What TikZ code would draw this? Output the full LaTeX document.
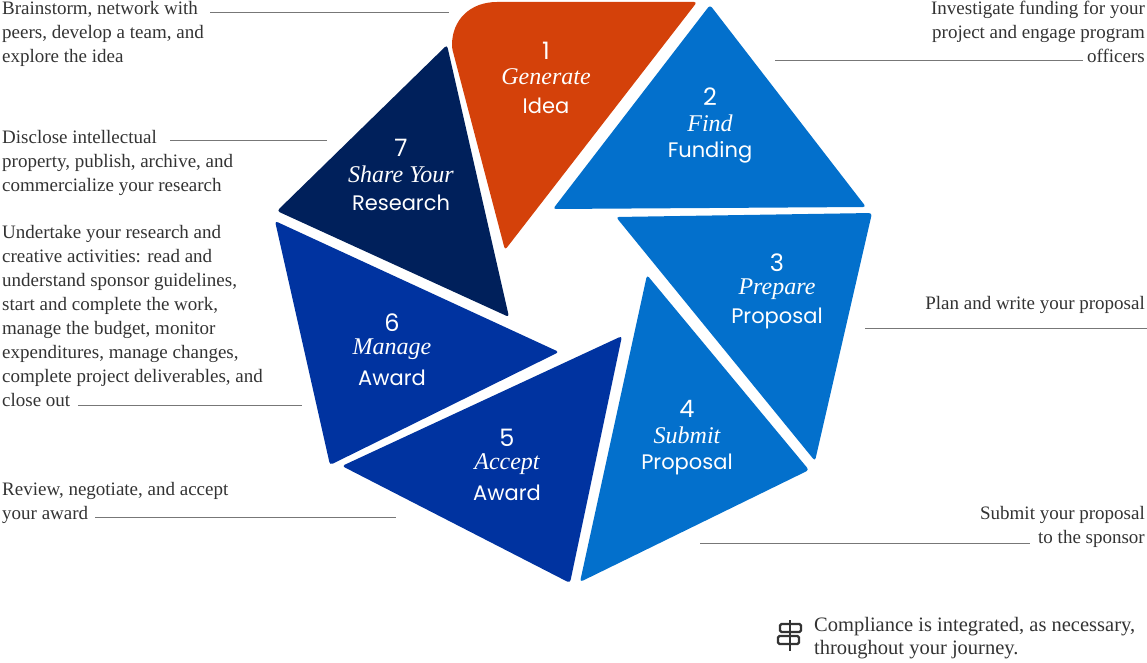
\documentclass[tikz,border=0pt]{standalone}
\usepackage{fontspec}
\setmainfont{Liberation Serif}
\newfontfamily\numfont{Poppins}
\definecolor{orng}{HTML}{D4410A}
\definecolor{lblue}{HTML}{0370CC}
\definecolor{royal}{HTML}{0033A0}
\definecolor{navy}{HTML}{00205B}
\definecolor{txtgray}{HTML}{333333}
\definecolor{lngray}{HTML}{777777}
\tikzset{
  petal/.style={rounded corners=3pt},
  lbl/.style={text=white, inner sep=0pt},
  numl/.style={lbl, font=\numfont\fontsize{24}{26}\selectfont},
  itl/.style={lbl, font=\fontsize{24}{26}\selectfont\itshape},
  wrdl/.style={lbl, font=\numfont\fontsize{21}{22}\selectfont},
  desc/.style={text=txtgray, font=\fontsize{19}{24}\selectfont, inner sep=0pt},
  lead/.style={draw=lngray, line width=0.8pt},
}
\newcommand{\stepl}[6]{%
  \node[numl] (#1n) at (#2,#3-27) {#4};
  \node[itl] (#1i) at (#2,#3-1) {#5};
  \node[wrdl] (#1w) at (#2,#3+28) {#6};}
\begin{document}
\begin{tikzpicture}[x=1pt,y=-1pt]
\useasboundingbox (0,0) rectangle (1147,663);
% petals
\fill[orng,petal] (452,48) .. controls (452,20) and (470,2) .. (500,2) -- (697,2) -- (505,250) -- cycle;
\fill[lblue,petal] (710,5) -- (866,207) -- (553,209) -- cycle;
\fill[lblue,petal] (616,217) -- (872,213) -- (815,461) -- cycle;
\fill[lblue,petal] (647,275) -- (809,470) -- (580,582) -- cycle;
\fill[royal,petal] (622,336) -- (570,583) -- (342,466) -- cycle;
\fill[royal,petal] (275,221) -- (559,352) -- (330,465) -- cycle;
\fill[navy,petal] (447,45) -- (509,317) -- (277,211) -- cycle;
% labels
\stepl{s1}{546}{78}{1}{Generate}{Idea}
\stepl{s2}{710}{124}{2}{Find}{Funding}
\stepl{s3}{777}{290}{3}{Prepare}{Proposal}
\stepl{s4}{687}{436}{4}{Submit}{Proposal}
\stepl{s5}{507}{465}{5}{Accept}{Award}
\stepl{s6}{392}{350}{6}{Manage}{Award}
\stepl{s7}{401}{175}{7}{Share Your}{Research}
% descriptions
\node[desc,anchor=north west,align=left] (d1) at (2,1) {Brainstorm, network with\\peers, develop a team, and\\explore the idea};
\coordinate (b1) at (210,12); \coordinate (e1) at (449,12);
\draw[lead] (b1) -- (e1);
\node[desc,anchor=north east,align=right] (d2) at (1145,1) {Investigate funding for your\\project and engage program\\officers};
\coordinate (e2) at (775,60); \coordinate (b2) at (1083,60);
\draw[lead] (e2) -- (b2);
\node[desc,anchor=north west,align=left] (d7) at (2,130) {Disclose intellectual\\property, publish, archive, and\\commercialize your research};
\coordinate (b7) at (170,140); \coordinate (e7) at (327,140);
\draw[lead] (b7) -- (e7);
\node[desc,anchor=north west,align=left] (d6) at (2,225) {Undertake your research and\\creative activities: read and\\understand sponsor guidelines,\\start and complete the work,\\manage the budget, monitor\\expenditures, manage changes,\\complete project deliverables, and\\close out};
\coordinate (b6) at (78,405); \coordinate (e6) at (302,405);
\draw[lead] (b6) -- (e6);
\node[desc,anchor=north east,align=right] (d3) at (1145,296) {Plan and write your proposal};
\coordinate (e3) at (865,328); \coordinate (b3) at (1147,328);
\draw[lead] (e3) -- (b3);
\node[desc,anchor=north west,align=left] (d5) at (2,482) {Review, negotiate, and accept\\your award};
\coordinate (b5) at (95,517); \coordinate (e5) at (396,517);
\draw[lead] (b5) -- (e5);
\node[desc,anchor=north east,align=right] (d4) at (1145,506) {Submit your proposal\\to the sponsor};
\coordinate (e4) at (700,543); \coordinate (b4) at (1030,543);
\draw[lead] (e4) -- (b4);
% compliance
\node[desc,anchor=north west,align=left,font=\fontsize{20.5}{23}\selectfont] (cm) at (814,617) {Compliance is integrated, as necessary,\\throughout your journey.};
\begin{scope}[draw=txtgray,line width=2.2pt]
\draw (790,620) -- (790,651);
\draw[rounded corners=1.5pt] (780,624) rectangle (801,632);
\draw[rounded corners=1.5pt] (778,636) rectangle (799,644);
\end{scope}
\end{tikzpicture}
\end{document}
